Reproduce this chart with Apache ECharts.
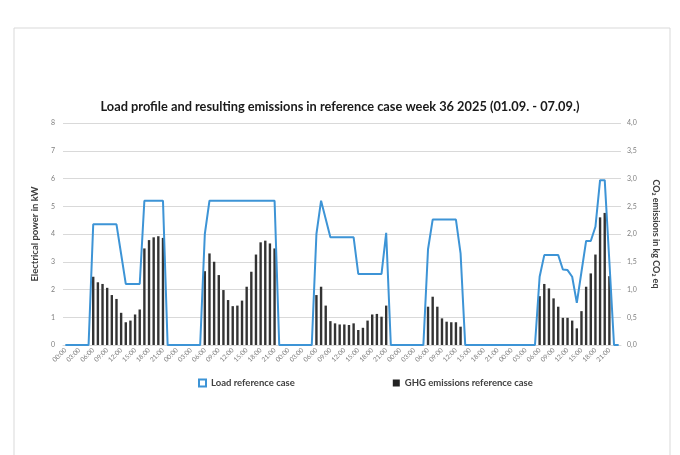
<!DOCTYPE html>
<html>
<head>
<meta charset="utf-8">
<script src="https://cdn.jsdelivr.net/npm/echarts@6/dist/echarts.min.js"></script>
<style>
    html, body { margin: 0; padding: 0; background: #fff; }
    #chart { width: 680px; height: 455px; }
</style>
</head>
<body>
<div id="chart"></div>
<script>
const hours = ["00:00", "01:00", "02:00", "03:00", "04:00", "05:00", "06:00", "07:00",
    "08:00", "09:00", "10:00", "11:00", "12:00", "13:00", "14:00", "15:00",
    "16:00", "17:00", "18:00", "19:00", "20:00", "21:00", "22:00", "23:00"];
const dayCount = 5;

// load in kW, one value per hour
const loadDay1 = [0, 0, 0, 0, 0, 0, 4.35, 4.35, 4.35, 4.35, 4.35, 4.35, 3.28, 2.2, 2.2, 2.2, 2.2, 5.2, 5.2, 5.2, 5.2, 5.2, 0, 0];
const loadDay2 = [0, 0, 0, 0, 0, 0, 4.0, 5.2, 5.2, 5.2, 5.2, 5.2, 5.2, 5.2, 5.2, 5.2, 5.2, 5.2, 5.2, 5.2, 5.2, 5.2, 0, 0];
const loadDay3 = [0, 0, 0, 0, 0, 0, 4.0, 5.2, 4.54, 3.88, 3.88, 3.88, 3.88, 3.88, 3.88, 2.56, 2.56, 2.56, 2.56, 2.56, 2.56, 4.04, 0, 0];
const loadDay4 = [0, 0, 0, 0, 0, 0, 3.45, 4.52, 4.52, 4.52, 4.52, 4.52, 4.52, 3.3, 0, 0, 0, 0, 0, 0, 0, 0, 0, 0];
const loadDay5 = [0, 0, 0, 0, 0, 0, 2.46, 3.24, 3.24, 3.24, 3.24, 2.72, 2.7, 2.46, 1.52, 2.64, 3.75, 3.75, 4.26, 5.94, 5.94, 3.0, 0, 0];

// GHG emissions in kg CO2 eq, one value per hour
const ghgDay1 = [null, null, null, null, null, null, 1.23, 1.13, 1.1, 1.03, 0.9, 0.83, 0.58, 0.41, 0.44, 0.55, 0.64, 1.74, 1.89, 1.94, 1.96, 1.93, null, null];
const ghgDay2 = [null, null, null, null, null, null, 1.33, 1.65, 1.5, 1.26, 0.99, 0.81, 0.7, 0.71, 0.8, 1.05, 1.32, 1.63, 1.85, 1.88, 1.83, 1.74, null, null];
const ghgDay3 = [null, null, null, null, null, null, 0.9, 1.05, 0.71, 0.43, 0.39, 0.37, 0.37, 0.36, 0.39, 0.27, 0.31, 0.44, 0.55, 0.56, 0.51, 0.71, null, null];
const ghgDay4 = [null, null, null, null, null, null, 0.69, 0.87, 0.69, 0.48, 0.42, 0.41, 0.41, 0.33, null, null, null, null, null, null, null, null, null, null];
const ghgDay5 = [null, null, null, null, null, null, 0.88, 1.1, 1.02, 0.84, 0.69, 0.49, 0.49, 0.44, 0.3, 0.61, 1.05, 1.29, 1.63, 2.3, 2.38, 1.24, null, null];

const categories = [];
for (let d = 0; d < dayCount; d++) {
    categories.push(...hours);
}
const loadData = [].concat(loadDay1, loadDay2, loadDay3, loadDay4, loadDay5);
const ghgData = [].concat(ghgDay1, ghgDay2, ghgDay3, ghgDay4, ghgDay5);

const blue = "#3d94d6";
const font = "Lato, 'Open Sans', sans-serif";

const chart = echarts.init(document.getElementById("chart"));
const option = {
    textStyle: { fontFamily: font },
    graphic: [
        {
            type: "rect",
            shape: { x: 14, y: 28, width: 656, height: 440 },
            style: { fill: "none", stroke: "#d9d9d9", lineWidth: 1 },
            silent: true
        }
    ],
    title: {
        text: "Load profile and resulting emissions in reference case week 36 2025 (01.09. - 07.09.)",
        left: "center",
        top: 95,
        textStyle: { fontSize: 12.8, fontWeight: "bold", color: "#1a1a1a", fontFamily: font }
    },
    legend: {
        left: 193,
        top: 373,
        itemWidth: 7,
        itemHeight: 7,
        itemGap: 98,
        textStyle: { fontSize: 9.5, fontWeight: "bold", color: "#404040", fontFamily: font },
        data: [
            {
                name: "Load reference case",
                icon: "rect",
                itemStyle: { color: "#fff", borderColor: blue, borderWidth: 2 }
            },
            {
                name: "GHG emissions reference case",
                icon: "rect",
                itemStyle: { color: "#222" }
            }
        ]
    },
    grid: {
        left: 63,
        right: 59,
        top: 123,
        bottom: 110,
        containLabel: false
    },
    xAxis: {
        type: "category",
        data: categories,
        boundaryGap: true,
        axisLine: { lineStyle: { color: "#d9d9d9" } },
        axisTick: { show: false },
        axisLabel: {
            interval: 2,
            rotate: 45,
            fontSize: 6.5,
            color: "#7f7f7f",
            margin: 4
        }
    },
    yAxis: [
        {
            type: "value",
            min: 0,
            max: 8,
            interval: 1,
            name: "Electrical power in kW",
            nameLocation: "middle",
            nameGap: 22,
            nameTextStyle: { fontSize: 9.5, fontWeight: "bold", color: "#404040" },
            axisLine: { show: false },
            axisTick: { show: false },
            axisLabel: { fontSize: 7, color: "#7f7f7f", margin: 8 },
            splitLine: { lineStyle: { color: "#d9d9d9" } }
        },
        {
            type: "value",
            min: 0,
            max: 4,
            interval: 0.5,
            name: "CO\u2082 emissions in kg CO\u2082 eq",
            nameLocation: "middle",
            nameGap: 30,
            nameRotate: -90,
            nameTextStyle: { fontSize: 9, fontWeight: "bold", color: "#404040" },
            axisLine: { show: false },
            axisTick: { show: false },
            axisLabel: {
                fontSize: 7,
                color: "#7f7f7f",
                margin: 6,
                formatter: v => v.toFixed(1).replace(".", ",")
            },
            splitLine: { show: false }
        }
    ],
    series: [
        {
            name: "GHG emissions reference case",
            type: "bar",
            yAxisIndex: 1,
            data: ghgData,
            barWidth: 2.4,
            itemStyle: { color: "#333" }
        },
        {
            name: "Load reference case",
            type: "line",
            yAxisIndex: 0,
            data: loadData,
            symbol: "none",
            lineStyle: { color: blue, width: 2 },
            itemStyle: { color: blue },
            z: 3
        }
    ]
};
chart.setOption(option);
</script>
</body>
</html>
